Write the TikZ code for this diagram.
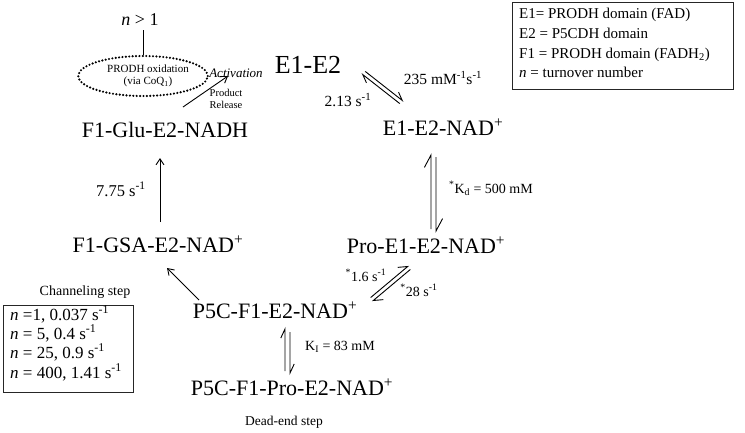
\documentclass[tikz,border=0pt]{standalone}
\usepackage{fontspec}
\setmainfont{Liberation Serif}
\usetikzlibrary{arrows.meta,calc,shapes.geometric}
\begin{document}
\begin{tikzpicture}[x=1pt,y=-1pt,
  species/.style={font=\fontsize{22}{26}\selectfont,inner sep=0pt,anchor=base},
  ratelab/.style={font=\fontsize{15.5}{18}\selectfont,inner sep=0pt,anchor=base},
  smalllab/.style={font=\fontsize{14}{16}\selectfont,inner sep=0pt,anchor=base},
  legendtxt/.style={font=\fontsize{15}{18}\selectfont,inner sep=0pt,anchor=base west},
  boxtxt/.style={font=\fontsize{17}{19}\selectfont,inner sep=0pt,anchor=base west},
  conn/.style={line width=0.9pt,-{Straight Barb[length=6pt,width=8pt]}},
  harp/.style={line width=0.9pt},
  frame/.style={draw=black!85,line width=1pt},
  dotline/.style={draw,line width=2.4pt,dash pattern=on 0pt off 3.4pt,line cap=round}]
\useasboundingbox (0,0) rectangle (745,432);

% species
\node[species] (e1e2) at (308,73) {\fontsize{26}{30}\selectfont E1-E2};
\node[species] (glu) at (165,137) {F1-Glu-E2-NADH};
\node[species] (nad) at (443,135) {E1-E2-NAD\textsuperscript{+}};
\node[species] (pro) at (426,253) {Pro-E1-E2-NAD\textsuperscript{+}};
\node[species] (gsa) at (158,252) {F1-GSA-E2-NAD\textsuperscript{+}};
\node[species] (p5c) at (275,318) {P5C-F1-E2-NAD\textsuperscript{+}};
\node[species] (dead) at (292,395) {P5C-F1-Pro-E2-NAD\textsuperscript{+}};

% top-left cycle part
\node[font=\fontsize{18}{20}\selectfont,inner sep=0pt,anchor=base] (n1) at (140,25) {\textit{n} > 1};
\node[ellipse,dotline,minimum width=116pt,minimum height=40pt,inner sep=0pt,
      align=center,font=\fontsize{11}{12.5}\selectfont] (prodh) at (143,76)
      {\hspace*{10pt}PRODH oxidation\\\hspace*{10pt}(via CoQ\textsubscript{1})};
\coordinate (ntop) at (0,30);
\draw[harp] (prodh.north) -- (prodh.north |- ntop);
\node[font=\fontsize{13}{15}\selectfont\itshape,inner sep=0pt,anchor=base] (act) at (236,77) {Activation};
\node[font=\fontsize{10.5}{12.5}\selectfont,inner sep=0pt,align=center] (prel) at (226,99) {Product\\Release};
\coordinate (pr1) at (183,107);
\coordinate (pr2) at (228,76);
\draw[conn] (pr1) -- (pr2);

% E1-E2 <=> E1-E2-NAD+
\coordinate (h1s) at (399.8,103.6); \coordinate (h1t) at (362.8,74.6);
\coordinate (h2s) at (365.2,71.4); \coordinate (h2t) at (402.2,100.4);
\draw[harp] (h1s) -- (h1t) -- ($(h1t)!9pt!-28:(h1s)$);
\draw[harp] (h2s) -- (h2t) -- ($(h2t)!9pt!-28:(h2s)$);
\node[ratelab] (k213) at (348,106) {2.13 s\textsuperscript{-1}};
\node[ratelab] (k235) at (443,84) {235 mM\textsuperscript{-1}s\textsuperscript{-1}};

% E1-E2-NAD+ <=> Pro-E1-E2-NAD+
\coordinate (kd1s) at (431,229); \coordinate (kd1t) at (431,155);
\coordinate (kd2s) at (436,157); \coordinate (kd2t) at (436,231);
\draw[harp] (kd1s) -- (kd1t) -- ($(kd1t)!14pt!-28:(kd1s)$);
\draw[harp] (kd2s) -- (kd2t) -- ($(kd2t)!14pt!-28:(kd2s)$);
\node[smalllab] (kd) at (491,193) {\textsuperscript{*}K\textsubscript{d} = 500 mM};

% Pro-E1-E2-NAD+ <=> P5C-F1-E2-NAD+
\coordinate (p1s) at (370.7,297.5); \coordinate (p1t) at (407.7,266.5);
\coordinate (p2s) at (410.3,269.5); \coordinate (p2t) at (373.3,300.5);
\draw[harp] (p1s) -- (p1t) -- ($(p1t)!10pt!-35:(p1s)$);
\draw[harp] (p2s) -- (p2t) -- ($(p2t)!10pt!-35:(p2s)$);
\node[smalllab] (k16) at (366,281) {\textsuperscript{*}1.6 s\textsuperscript{-1}};
\node[smalllab] (k28) at (419,296) {\textsuperscript{*}28 s\textsuperscript{-1}};

% channeling
\coordinate (ch1) at (199,300);
\coordinate (ch2) at (167,268);
\draw[conn] (ch1) -- (ch2);
\node[smalllab] (chan) at (85,295) {Channeling step};

% GSA -> Glu
\coordinate (g1) at (160,222);
\coordinate (g2) at (160,158);
\draw[conn] (g1) -- (g2);
\node[ratelab,font=\fontsize{16.5}{18}\selectfont] (k775) at (121,196) {7.75 s\textsuperscript{-1}};

% dead-end
\coordinate (d1s) at (285,371); \coordinate (d1t) at (285,329);
\coordinate (d2s) at (290,332); \coordinate (d2t) at (290,373);
\draw[harp] (d1s) -- (d1t) -- ($(d1t)!10pt!-25:(d1s)$);
\draw[harp] (d2s) -- (d2t) -- ($(d2t)!10pt!-25:(d2s)$);
\node[smalllab] (ki) at (340,350) {K\textsubscript{I} = 83 mM};
\node[font=\fontsize{13.5}{16}\selectfont,inner sep=0pt,anchor=base] (deadlab) at (284,425) {Dead-end step};

% legend
\node[frame,anchor=north west,minimum width=221pt,minimum height=87pt,inner sep=0pt] (legend) at (512,2) {};
\node[legendtxt] (l1) at (519,18) {E1= PRODH domain (FAD)};
\node[legendtxt] (l2) at (519,38) {E2 = P5CDH domain};
\node[legendtxt] (l3) at (519,58) {F1 = PRODH domain (FADH\textsubscript{2})};
\node[legendtxt] (l4) at (519,77) {\textit{n} = turnover number};

% turnover box
\node[frame,anchor=north west,minimum width=130pt,minimum height=87pt,inner sep=0pt] (tbox) at (3,305) {};
\node[boxtxt] (t1) at (10,320) {\textit{n} =1, 0.037 s\textsuperscript{-1}};
\node[boxtxt] (t2) at (10,339) {\textit{n} = 5, 0.4 s\textsuperscript{-1}};
\node[boxtxt] (t3) at (10,358) {\textit{n} = 25, 0.9 s\textsuperscript{-1}};
\node[boxtxt] (t4) at (10,378) {\textit{n} = 400, 1.41 s\textsuperscript{-1}};
\end{tikzpicture}
\end{document}
